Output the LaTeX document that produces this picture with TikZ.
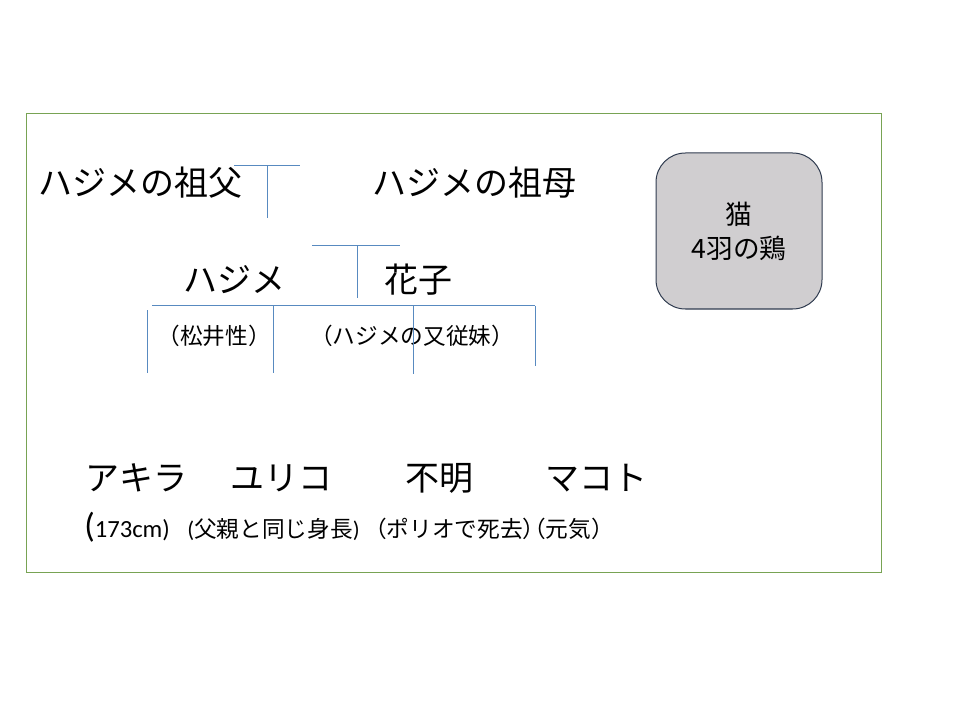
\documentclass[tikz,border=0pt]{standalone}
\usepackage{fontspec}
\setmainfont{Noto Sans CJK JP}
\newfontfamily\lat{Carlito}
\begin{document}
\begin{tikzpicture}[x=0.75pt,y=-0.75pt,
  big/.style={font=\fontsize{25.5}{30}\selectfont,inner sep=0pt,anchor=center},
  small/.style={font=\fontsize{17}{20}\selectfont,inner sep=0pt},
  link/.style={draw=linkblue,line width=0.75pt},
]
\definecolor{framegreen}{RGB}{120,163,84}
\definecolor{linkblue}{RGB}{88,138,192}
\definecolor{boxgray}{RGB}{208,206,208}
\definecolor{boxedge}{RGB}{47,59,79}
\useasboundingbox (0,0) rectangle (960,720);
\draw[framegreen,line width=0.75pt] (26,114) rectangle (881,572);

% top generation
\node[big] (gf) at (140.5,183) {ハジメの祖父};
\node[big] (gm) at (474.5,183) {ハジメの祖母};
\coordinate (l1a) at (234,166); \coordinate (l1b) at (300,166);
\coordinate (l1t) at (267,166); \coordinate (l1d) at (267,218);
\draw[link] (l1a) -- (l1b);
\draw[link] (l1t) -- (l1d);

% middle generation
\node[big] (hj) at (234.5,280) {ハジメ};
\node[big] (hk) at (418,280) {花子};
\coordinate (l2a) at (312,246); \coordinate (l2b) at (400,246);
\coordinate (l2t) at (357,246); \coordinate (l2d) at (357,298);
\draw[link] (l2a) -- (l2b);
\draw[link] (l2t) -- (l2d);

\node[small] (n1) at (214,336) {（松井性）};
\node[small] (n2) at (412,336) {（ハジメの又従妹）};

% children bar
\coordinate (b1) at (152,306); \coordinate (b2) at (535,306);
\draw[link] (b1) -- (b2);
\coordinate (v1t) at (147,310); \coordinate (v1b) at (147,373);
\coordinate (v2t) at (273,306); \coordinate (v2b) at (273,373);
\coordinate (v3t) at (413,306); \coordinate (v3b) at (413,374);
\coordinate (v4t) at (535,306); \coordinate (v4b) at (535,366);
\draw[link] (v1t) -- (v1b);
\draw[link] (v2t) -- (v2b);
\draw[link] (v3t) -- (v3b);
\draw[link] (v4t) -- (v4b);

% children
\node[big] (c1) at (136.5,478) {アキラ};
\node[big] (c2) at (281.5,478) {ユリコ};
\node[big] (c3) at (439.5,478) {不明};
\node[big] (c4) at (596.5,478) {マコト};

\node[inner sep=0pt,anchor=base west] (d1) at (84,537) {{\lat\fontsize{26}{30}\selectfont (}{\lat\fontsize{18.5}{20}\selectfont 173cm)}};
\node[small,anchor=base west] (d2) at (187,537) {{\lat (}父親と同じ身長{\lat )}};
\node[small,anchor=base west] (d3) at (364,537) {（ポリオで死去）};
\node[small,anchor=base west] (d4) at (523,537) {（元気）};

% pets box
\node[draw=boxedge,fill=boxgray,line width=0.75pt,rounded corners=22pt,
  minimum width=166*0.75pt,minimum height=156*0.75pt,inner sep=0pt,
  align=center,font=\fontsize{20}{25.5}\selectfont] (pets) at (739,231) {猫\\4羽の鶏};
\end{tikzpicture}
\end{document}
